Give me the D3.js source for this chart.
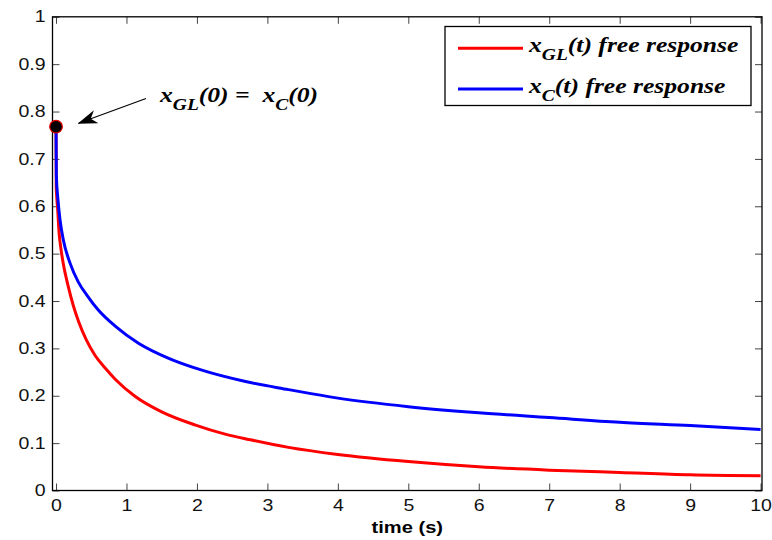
<!DOCTYPE html>
<html>
<head>
<meta charset="utf-8">
<script src="https://cdn.jsdelivr.net/npm/d3@7"></script>
<style>
	body { margin: 0; background: #fff; }
	svg { display: block; }
	.tick text { font-family: "Liberation Sans", Arial, sans-serif; font-size: 16px; fill: #111; }
	.tick line { stroke: #444; }
	.lab { font-family: "Liberation Serif", "Times New Roman", serif; font-weight: bold; font-style: italic; fill: #000; white-space: pre; }
</style>
</head>
<body>
<svg id="chart" width="772" height="540"></svg>
<script>
// time samples (s) and free responses
var tRed   = [0, 0.003, 0.01, 0.024, 0.043, 0.07, 0.104, 0.175, 0.246, 0.32, 0.43, 0.555, 0.7, 0.84, 1.12, 1.5, 1.98, 2.4, 2.76, 3.3, 4, 5, 6, 7, 8, 9, 10];
var xGL    = [0.768, 0.64, 0.62, 0.592, 0.545, 0.51, 0.478, 0.43, 0.39, 0.357, 0.318, 0.285, 0.258, 0.235, 0.199, 0.166, 0.138, 0.119, 0.107, 0.091, 0.076, 0.061, 0.050, 0.043, 0.038, 0.033, 0.031];

var tBlue  = [0, 0.005, 0.024, 0.057, 0.104, 0.199, 0.317, 0.45, 0.6, 0.84, 1.17, 1.6, 2.07, 2.69, 3.3, 4, 5, 6, 7, 8, 9, 10];
var xC     = [0.768, 0.662, 0.62, 0.571, 0.529, 0.48, 0.44, 0.41, 0.381, 0.347, 0.311, 0.279, 0.254, 0.23, 0.213, 0.195, 0.177, 0.164, 0.154, 0.144, 0.137, 0.129];

var xTicks = [0, 1, 2, 3, 4, 5, 6, 7, 8, 9, 10];
var yTicks = [0, 0.1, 0.2, 0.3, 0.4, 0.5, 0.6, 0.7, 0.8, 0.9, 1];

var svg = d3.select("#chart");

var L = 52.5, R = 762, T = 16.8, B = 490.5;
var stretch = 1.22;

var x = d3.scaleLinear().domain([-0.05, 10.02]).range([L, R]);
var y = d3.scaleLinear().domain([0, 1]).range([B, T]);

var fmt = function (d) { return d3.format("~g")(d); };

// the reference text is drawn a bit wider than the font
function widen(g) {
	g.selectAll(".tick text").each(function () {
		var t = d3.select(this);
		var x0 = +t.attr("x") || 0;
		t.attr("x", 0).attr("transform", "translate(" + x0 + ",0) scale(" + stretch + ",1)");
	});
}

// axes, ticks pointing inward
svg.append("g")
	.attr("transform", "translate(0," + B + ")")
	.call(d3.axisBottom(x).tickValues(xTicks).tickFormat(fmt).tickSizeInner(-7).tickSizeOuter(0).tickPadding(9))
	.call(function (g) { g.select(".domain").remove(); widen(g); });

svg.append("g")
	.attr("transform", "translate(0," + T + ")")
	.call(d3.axisTop(x).tickValues(xTicks).tickFormat("").tickSizeInner(-7).tickSizeOuter(0))
	.call(function (g) { g.select(".domain").remove(); });

svg.append("g")
	.attr("transform", "translate(" + L + ",0)")
	.call(d3.axisLeft(y).tickValues(yTicks).tickFormat(fmt).tickSizeInner(-7).tickSizeOuter(0).tickPadding(7))
	.call(function (g) { g.select(".domain").remove(); widen(g); });

svg.append("g")
	.attr("transform", "translate(" + R + ",0)")
	.call(d3.axisRight(y).tickValues(yTicks).tickFormat("").tickSizeInner(-7).tickSizeOuter(0))
	.call(function (g) { g.select(".domain").remove(); });

svg.append("rect")
	.attr("x", L).attr("y", T)
	.attr("width", R - L).attr("height", B - T)
	.attr("fill", "none").attr("stroke", "#000").attr("stroke-width", 1.3);

// curves
var line = d3.line()
	.x(function (d) { return x(d[0]); })
	.y(function (d) { return y(d[1]); })
	.curve(d3.curveMonotoneX);

svg.append("clipPath").attr("id", "clip")
	.append("rect").attr("x", L).attr("y", T).attr("width", R - L).attr("height", B - T);

svg.append("path")
	.datum(d3.zip(tRed, xGL))
	.attr("clip-path", "url(#clip)")
	.attr("d", line)
	.attr("fill", "none").attr("stroke", "#ff0000").attr("stroke-width", 3);

svg.append("path")
	.datum(d3.zip(tBlue, xC))
	.attr("clip-path", "url(#clip)")
	.attr("d", line)
	.attr("fill", "none").attr("stroke", "#0000ff").attr("stroke-width", 3);

// initial condition marker
svg.append("circle")
	.attr("cx", x(tRed[0])).attr("cy", y(xGL[0]))
	.attr("r", 6.3)
	.attr("fill", "#000").attr("stroke", "#e00000").attr("stroke-width", 1.2);

// annotation arrow
svg.append("defs").append("marker")
	.attr("id", "arrowhead")
	.attr("viewBox", "0 0 20 14")
	.attr("refX", 19).attr("refY", 7)
	.attr("markerWidth", 20).attr("markerHeight", 14)
	.attr("markerUnits", "userSpaceOnUse")
	.attr("orient", "auto")
	.append("path")
	.attr("d", "M0,0 L20,7 L0,14 L6,7 Z")
	.attr("fill", "#000");

svg.append("line")
	.attr("x1", 146).attr("y1", 98.5)
	.attr("x2", 78.5).attr("y2", 123.3)
	.attr("stroke", "#000").attr("stroke-width", 1.2)
	.attr("marker-end", "url(#arrowhead)");

// math-ish label: base text with a dropped subscript
function mathLabel(parent, x0, y0, parts) {
	var t = parent.append("text").attr("class", "lab")
		.attr("transform", "translate(" + x0 + "," + y0 + ") scale(" + stretch + ",1)")
		.style("font-size", "21px");
	parts.forEach(function (p, i) {
		var s = t.append("tspan").text(p);
		if (i % 2 == 1) {
			s.attr("dy", 8).style("font-size", "16px");
		} else if (i > 0) {
			s.attr("dy", -8);
		}
	});
	return t;
}

mathLabel(svg, 160, 101.5, ["x", "GL", "(0) =  x", "C", "(0)"]);

// x label
svg.append("text")
	.attr("transform", "translate(" + ((L + R) / 2) + ",533) scale(" + stretch + ",1)")
	.attr("text-anchor", "middle")
	.style("font-family", "'Liberation Sans', Arial, sans-serif")
	.style("font-weight", "bold").style("font-size", "16.5px")
	.text("time (s)");

// legend
var legend = svg.append("g");
legend.append("rect")
	.attr("x", 445).attr("y", 26.5)
	.attr("width", 306).attr("height", 79)
	.attr("fill", "#fff").attr("stroke", "#000").attr("stroke-width", 1.3);

var legItems = [
	{ color: "#ff0000", sub: "GL", y: 48.3, base: 52 },
	{ color: "#0000ff", sub: "C", y: 89, base: 92.5 }
];

legItems.forEach(function (d) {
	legend.append("line")
		.attr("x1", 458).attr("x2", 523)
		.attr("y1", d.y).attr("y2", d.y)
		.attr("stroke", d.color).attr("stroke-width", 3);
	mathLabel(legend, 529, d.base, ["x", d.sub, "(t) free response"]);
});
</script>
</body>
</html>
